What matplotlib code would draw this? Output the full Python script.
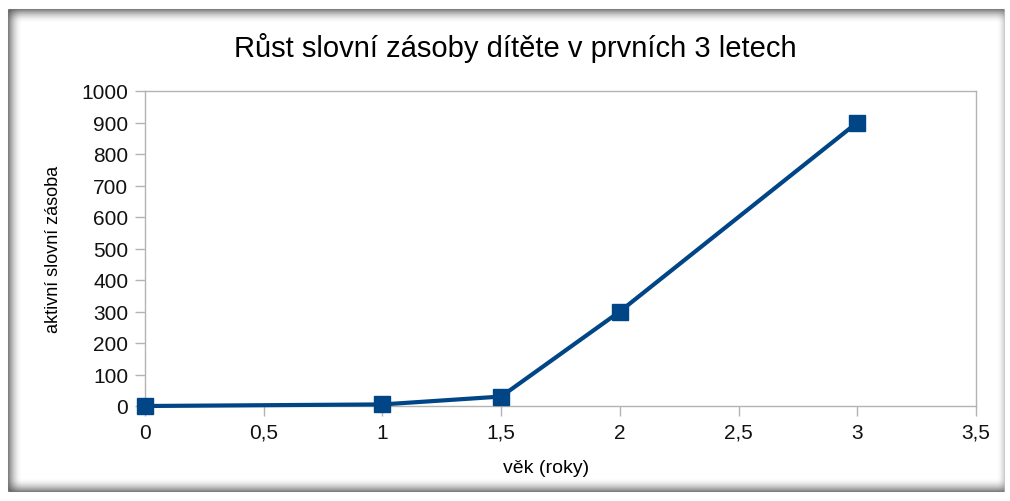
import matplotlib.pyplot as plt
from matplotlib.lines import Line2D
from matplotlib.ticker import FuncFormatter

plt.rcParams['font.family'] = ['Liberation Sans', 'DejaVu Sans']

# data
vek = [0, 1, 1.5, 2, 3]
zasoba = [0, 5, 30, 300, 900]

x_ticks = [0, 0.5, 1, 1.5, 2, 2.5, 3, 3.5]
y_ticks = list(range(0, 1001, 100))

title = "Růst slovní zásoby dítěte v prvních 3 letech"
xlabel = "věk (roky)"
ylabel = "aktivní slovní zásoba"

W, H = 1010, 502
fig = plt.figure(figsize=(W / 100, H / 100), dpi=100)

# shaded picture frame (figure pixel coords -> fractions)
def fline(x0, y0, x1, y1, color, lw=1.0, alpha=1.0):
    fig.add_artist(Line2D([x0 / W, x1 / W], [1 - y0 / H, 1 - y1 / H],
                          color=color, lw=lw, alpha=alpha,
                          transform=fig.transFigure, solid_capstyle='butt'))

L, T, R, B = 8, 10, 1004, 492
for i in range(14):
    a = 0.75 * (1 - i / 14) ** 2
    fline(L, T + i, R, T + i, '#555555', lw=0.75, alpha=a)      # top
    fline(L + i, T, L + i, B, '#555555', lw=0.75, alpha=a)      # left
    fline(L, B - i, R, B - i, '#555555', lw=0.75, alpha=a)      # bottom
for i in range(8):
    a = 0.35 * (1 - i / 8) ** 2
    fline(R - i, T, R - i, B, '#777777', lw=0.75, alpha=a)      # right

ax = fig.add_axes([145 / W, 1 - 407 / H, (976 - 145) / W, (407 - 92) / H])

ax.plot(vek, zasoba, color='#004586', lw=3.0, marker='s', markersize=11,
        clip_on=False, zorder=3)

ax.set_xlim(0, 3.5)
ax.set_ylim(0, 1000)
ax.set_xticks(x_ticks)
ax.set_yticks(y_ticks)
fmt = FuncFormatter(lambda v, p: ('%g' % v).replace('.', ','))
ax.xaxis.set_major_formatter(fmt)
ax.yaxis.set_major_formatter(fmt)

for s in ax.spines.values():
    s.set_color('#b3b3b3')
    s.set_linewidth(1.0)
ax.tick_params(direction='out', length=7, width=1, color='#b3b3b3',
               labelsize=15, labelcolor='#111111', pad=5)

fig.text(546 / W, 1 - 469 / H, xlabel, ha='center', va='center', fontsize=14)
ax.set_ylabel(ylabel, fontsize=13, labelpad=14)
fig.text(515 / W, 1 - 48 / H, title, ha='center', va='center', fontsize=21)

fig.savefig('out.png', dpi=100)
